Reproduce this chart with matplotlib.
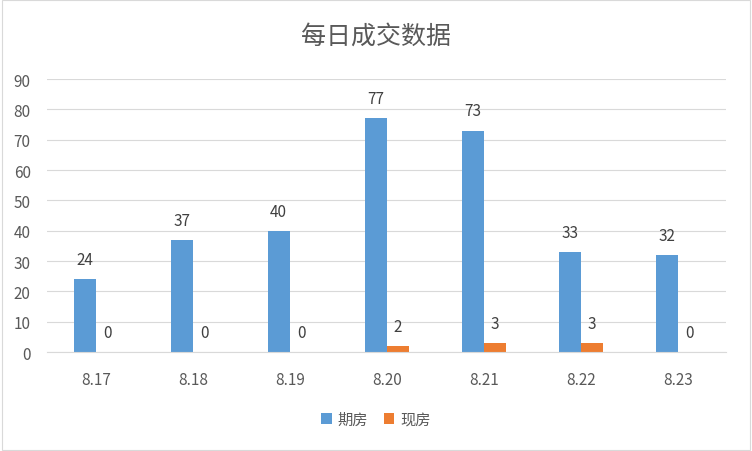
import matplotlib.pyplot as plt
import numpy as np

plt.rcParams['font.family'] = ['Noto Sans CJK SC', 'DejaVu Sans']

dates = ["8.17", "8.18", "8.19", "8.20", "8.21", "8.22", "8.23"]
futures = [24, 37, 40, 77, 73, 33, 32]
spot = [0, 0, 0, 2, 3, 3, 0]

fig = plt.figure(figsize=(7.52, 4.52), dpi=100)
ax = fig.add_axes([0.063, 0.219, 0.903, 0.604])

x = np.arange(len(dates))
w = 0.23
b1 = ax.bar(x - w / 2, futures, w, color="#5b9bd5", label="期房")
b2 = ax.bar(x + w / 2, spot, w, color="#ed7d31", label="现房")
for bars in (b1, b2):
    for r in bars:
        ax.annotate(str(int(r.get_height())), (r.get_x() + r.get_width() / 2, r.get_height()),
                    xytext=(0, 8), textcoords="offset points", ha="center", va="bottom",
                    fontsize=11, color="#404040")

ax.set_xlim(-0.5, len(dates) - 0.5)
ax.set_ylim(0, 90)
ax.set_yticks(range(0, 91, 10))
ax.set_xticks(x)
ax.set_xticklabels(dates)
ax.tick_params(length=0, labelsize=11, colors="#595959")
ax.tick_params(axis="x", pad=14)
ax.tick_params(axis="y", pad=12)
ax.grid(axis="y", color="#d9d9d9", linewidth=0.8)
ax.set_axisbelow(True)
for s in ["top", "right", "left"]:
    ax.spines[s].set_visible(False)
ax.spines["bottom"].set_color("#d9d9d9")

# light frame around the whole chart
fig.patches.append(plt.Rectangle((0.002, 0.002), 0.996, 0.996, transform=fig.transFigure,
                                 fill=False, edgecolor="#d9d9d9", linewidth=0.8))

fig.text(0.5, 0.92, "每日成交数据", ha="center", va="center", fontsize=18, color="#595959")
fig.legend(handles=[b1, b2], loc="center", bbox_to_anchor=(0.5, 0.07), ncol=2, frameon=False,
           fontsize=11, handlelength=0.7, handleheight=0.7, columnspacing=1.0, handletextpad=0.4,
           labelcolor="#595959")

fig.savefig("out.png", dpi=100)
